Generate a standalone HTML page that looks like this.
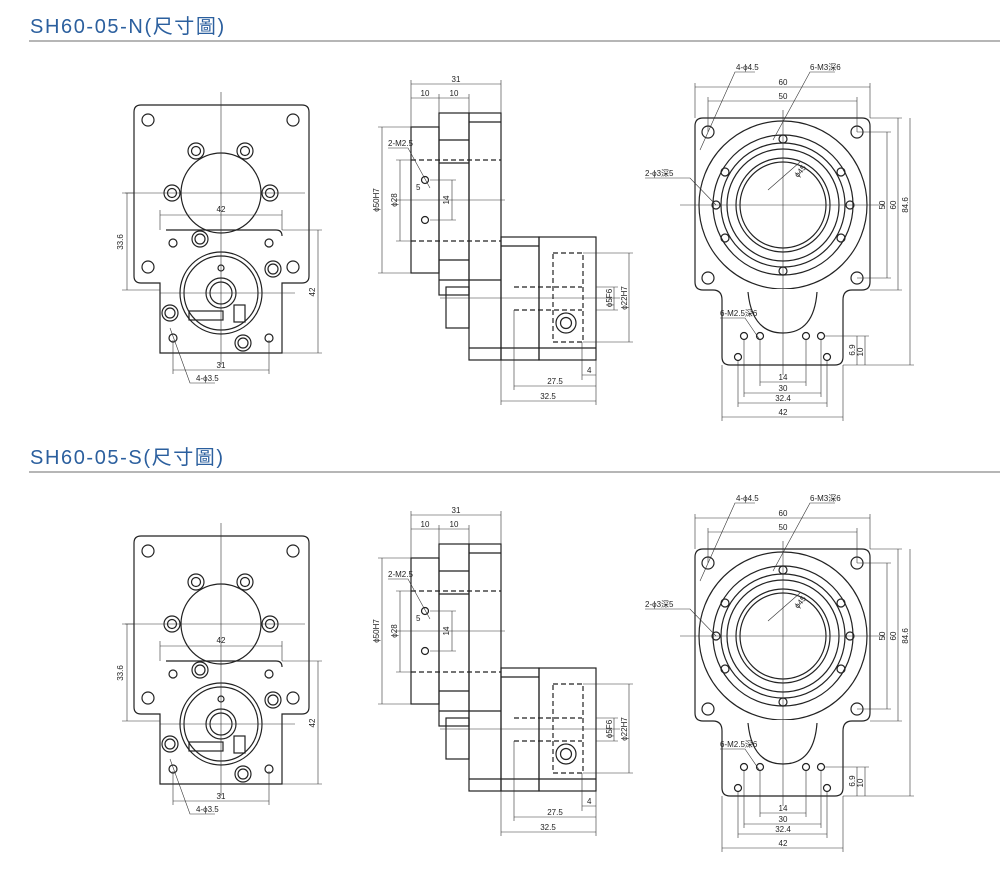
<!DOCTYPE html>
<html><head><meta charset="utf-8"><style>
body{margin:0;background:#fff;width:1000px;height:873px;overflow:hidden}
svg{display:block}
.t{font-family:"Liberation Sans","Noto Sans CJK TC",sans-serif;font-size:20px;fill:#2b5f9e;letter-spacing:1.6px}
.d{font-family:"Liberation Sans Narrow","Liberation Sans",sans-serif;font-size:8px;fill:#222}
</style></head><body>
<svg width="1000" height="873" viewBox="0 0 1000 873" xmlns="http://www.w3.org/2000/svg">
<defs>
<clipPath id="sq"><rect x="696" y="119" width="173" height="170"/></clipPath>
<g id="v">
 <g fill="none" stroke="#222" stroke-width="1.2">
  <!-- LEFT VIEW -->
  <path d="M141 105 H302 Q309 105 309 112 V276 Q309 283 302 283 H282 V353 H160 V283 H141 Q134 283 134 276 V112 Q134 105 141 105 Z"/>
  <path d="M166 230 H276 Q282 230 282 236"/>
  <circle cx="221" cy="193" r="40"/>
  <circle cx="196" cy="151" r="8"/><circle cx="196" cy="151" r="4.5"/>
  <circle cx="245" cy="151" r="8"/><circle cx="245" cy="151" r="4.5"/>
  <circle cx="172" cy="193" r="8"/><circle cx="172" cy="193" r="4.5"/>
  <circle cx="270" cy="193" r="8"/><circle cx="270" cy="193" r="4.5"/>
  <circle cx="148" cy="120" r="6"/><circle cx="293" cy="120" r="6"/>
  <circle cx="148" cy="267" r="6"/><circle cx="293" cy="267" r="6"/>
  <circle cx="221" cy="293" r="41"/><circle cx="221" cy="293" r="37"/>
  <circle cx="221" cy="293" r="15"/><circle cx="221" cy="293" r="11"/>
  <circle cx="221" cy="268" r="3"/>
  <circle cx="173" cy="243" r="4"/><circle cx="269" cy="243" r="4"/>
  <circle cx="173" cy="338" r="4"/><circle cx="269" cy="338" r="4"/>
  <circle cx="200" cy="239" r="8"/><circle cx="200" cy="239" r="5"/>
  <circle cx="273" cy="269" r="8"/><circle cx="273" cy="269" r="5"/>
  <circle cx="170" cy="313" r="8"/><circle cx="170" cy="313" r="5"/>
  <circle cx="243" cy="343" r="8"/><circle cx="243" cy="343" r="5"/>
  <rect x="189" y="311" width="34" height="9"/><rect x="234" y="305" width="11" height="17"/>
  <!-- MIDDLE VIEW -->
  <rect x="411" y="127" width="28" height="146"/>
  <rect x="439" y="113" width="30" height="182"/>
  <rect x="469" y="113" width="32" height="247"/>
  <rect x="501" y="237" width="38" height="123"/>
  <rect x="539" y="237" width="57" height="123"/>
  <rect x="446" y="287" width="23" height="41"/>
  <path d="M439 140 H469 M439 163 H469 M439 260 H469 M439 280 H469 M469 122 H501 M469 280 H501 M469 348 H596 M501 246 H539"/>
  <circle cx="425" cy="180" r="3.5"/><circle cx="425" cy="220" r="3.5"/>
  <circle cx="566" cy="323" r="10"/><circle cx="566" cy="323" r="5.5"/>
 </g>
 <g fill="none" stroke="#222" stroke-width="1.2" stroke-dasharray="5 3">
  <path d="M411 160 H501 M411 241 H501 M514 287 H582 M514 310 H582 M553 253 H583 V342 H553 Z"/>
 </g>
 <g fill="none" stroke="#333" stroke-width="0.6">
  <path d="M221 92 V365 M125 193 H305 M160 293 H295"/>
  <path d="M395 200 H505 M440 298 H620"/>
  <path d="M127 193 V290 M122 193 H134 M122 290 H160 M160 215 H282 M160 210 V230 M282 210 V230 M318 230 V353 M282 230 H322 M282 353 H322 M173 370 H269 M173 340 V374 M269 340 V374 M170 328 L190 383 H215"/>
  <path d="M411 84 H501 M411 80 V127 M501 80 V113 M411 98 H469 M439 94 V113 M469 94 V113 M382 127 V273 M378 127 H411 M378 273 H411 M400 160 V241 M396 160 H411 M396 241 H411 M452 180 V220 M430 180 H456 M430 220 H456 M614 287 V310 M596 287 H618 M596 310 H618 M629 253 V342 M583 253 H633 M583 342 H633 M514 386 H596 M501 401 H596 M514 310 V390 M596 360 V405 M501 360 V405 M582 342 V380 M582 375 H596 M388 148 H408 L430 188"/>
 </g>
 <g fill="none" stroke="#222" stroke-width="1.2">
  <!-- RIGHT VIEW -->
  <path d="M703 118 H862 Q870 118 870 126 V282 Q870 290 862 290 H852 Q843 290 843 300 V357 Q843 365 835 365 H730 Q722 365 722 357 V300 Q722 290 713 290 H703 Q695 290 695 282 V126 Q695 118 703 118 Z"/>
  <path d="M748 292 Q752 333 783 333 Q814 333 817 292"/>
  <circle cx="783" cy="205" r="70"/><circle cx="783" cy="205" r="62"/>
  <circle cx="783" cy="205" r="56"/><circle cx="783" cy="205" r="47"/><circle cx="783" cy="205" r="43"/>
  <circle cx="783" cy="205" r="84" clip-path="url(#sq)"/>
  <circle cx="708" cy="132" r="6"/><circle cx="857" cy="132" r="6"/>
  <circle cx="708" cy="278" r="6"/><circle cx="857" cy="278" r="6"/>
  <circle cx="783" cy="139" r="4"/><circle cx="783" cy="271" r="4"/>
  <circle cx="725" cy="172" r="4"/><circle cx="841" cy="172" r="4"/>
  <circle cx="725" cy="238" r="4"/><circle cx="841" cy="238" r="4"/>
  <circle cx="716" cy="205" r="4"/><circle cx="850" cy="205" r="4"/>
  <circle cx="744" cy="336" r="3.5"/><circle cx="760" cy="336" r="3.5"/>
  <circle cx="806" cy="336" r="3.5"/><circle cx="821" cy="336" r="3.5"/>
  <circle cx="738" cy="357" r="3.5"/><circle cx="827" cy="357" r="3.5"/>
 </g>
 <g fill="none" stroke="#333" stroke-width="0.6">
  <path d="M783 110 V375 M680 205 H885"/>
  <path d="M695 87 H870 M695 83 V118 M870 83 V118 M708 101 H857 M708 97 V132 M857 97 V132 M887 132 V278 M857 132 H891 M857 278 H891 M898 118 V290 M870 118 H902 M870 290 H902 M910 118 V365 M843 365 H914 M857 336 V365 M865 336 V365 M825 336 H869 M760 382 H806 M744 393 H821 M738 403 H827 M722 417 H843 M760 340 V386 M806 340 V386 M744 340 V397 M821 340 V397 M738 361 V407 M827 361 V407 M722 365 V421 M843 365 V421"/>
  <path d="M700 150 L735 72 H755 M773 140 L810 72 H835 M645 178 H690 L716 205 M720 318 H745 L760 340 M768 190 L800 162"/>
 </g>
 <g class="d">
  <text x="221" y="212" text-anchor="middle">42</text>
  <text x="221" y="368" text-anchor="middle">31</text>
  <text x="196" y="381">4-ϕ3.5</text>
  <text transform="translate(123 242) rotate(-90)" text-anchor="middle">33.6</text>
  <text transform="translate(315 292) rotate(-90)" text-anchor="middle">42</text>
  <text x="456" y="82" text-anchor="middle">31</text>
  <text x="425" y="96" text-anchor="middle">10</text>
  <text x="454" y="96" text-anchor="middle">10</text>
  <text x="388" y="146">2-M2.5</text>
  <text x="416" y="190">5</text>
  <text transform="translate(379 200) rotate(-90)" text-anchor="middle">ϕ50H7</text>
  <text transform="translate(397 200) rotate(-90)" text-anchor="middle">ϕ28</text>
  <text transform="translate(449 200) rotate(-90)" text-anchor="middle">14</text>
  <text transform="translate(612 298) rotate(-90)" text-anchor="middle">ϕ5F6</text>
  <text transform="translate(627 298) rotate(-90)" text-anchor="middle">ϕ22H7</text>
  <text x="587" y="373">4</text>
  <text x="555" y="384" text-anchor="middle">27.5</text>
  <text x="548" y="399" text-anchor="middle">32.5</text>
  <text x="736" y="70">4-ϕ4.5</text>
  <text x="810" y="70">6-M3深6</text>
  <text x="645" y="176">2-ϕ3深5</text>
  <text x="720" y="316">6-M2.5深6</text>
  <text x="783" y="85" text-anchor="middle">60</text>
  <text x="783" y="99" text-anchor="middle">50</text>
  <text transform="translate(798 178) rotate(-50)">ϕ45</text>
  <text transform="translate(885 205) rotate(-90)" text-anchor="middle">50</text>
  <text transform="translate(896 205) rotate(-90)" text-anchor="middle">60</text>
  <text transform="translate(908 205) rotate(-90)" text-anchor="middle">84.6</text>
  <text transform="translate(855 350) rotate(-90)" text-anchor="middle">6.9</text>
  <text transform="translate(863 352) rotate(-90)" text-anchor="middle">10</text>
  <text x="783" y="380" text-anchor="middle">14</text>
  <text x="783" y="391" text-anchor="middle">30</text>
  <text x="783" y="401" text-anchor="middle">32.4</text>
  <text x="783" y="415" text-anchor="middle">42</text>
 </g>
</g>
</defs>
<text class="t" x="30" y="33">SH60-05-N(尺寸圖)</text>
<line x1="29" y1="41" x2="1000" y2="41" stroke="#8a8a8a" stroke-width="1.2"/>
<use href="#v"/>
<text class="t" x="30" y="464">SH60-05-S(尺寸圖)</text>
<line x1="29" y1="472" x2="1000" y2="472" stroke="#8a8a8a" stroke-width="1.2"/>
<use href="#v" transform="translate(0 431)"/>
</svg>
</body></html>
